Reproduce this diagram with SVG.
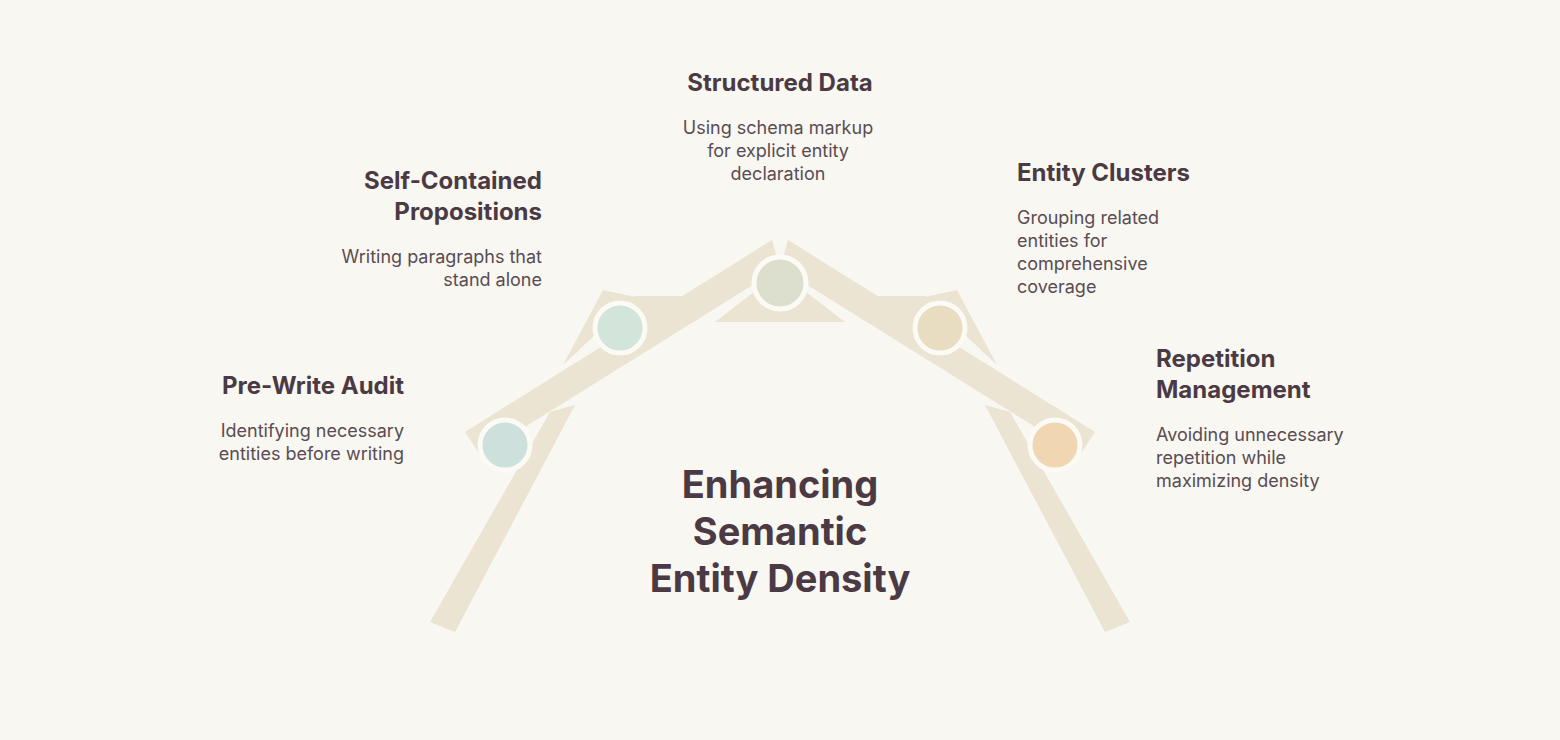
<svg xmlns="http://www.w3.org/2000/svg" width="1560" height="740" viewBox="0 0 1560 740">
<style>
.beam{fill:#ebe4d3}
.t{font-family:Inter,"Noto Sans",sans-serif;font-weight:700;font-size:24px;fill:#4b3a43}
.d{font-family:Inter,"Noto Sans",sans-serif;font-size:18px;fill:#5a4c52}
.c{font-family:Inter,"Noto Sans",sans-serif;font-weight:700;font-size:38px;fill:#4b3a43}
.n{stroke:#fbfaf5;stroke-width:5}
</style>
<rect width="1560" height="740" fill="#f8f7f2"/>
<g id="frame">
<polygon class="beam" points="430,622 455,632 575,405 550,412"/>
<polygon class="beam" points="563,365 603,290 640,298 600,330"/>
<polygon class="beam" points="635,296 700,296 680,320 630,320"/>
<polygon class="beam" points="715,322 845,322 780,272"/>
<polygon class="beam" points="465,432 480,455 780,268 772,240"/>
<polygon class="beam" points="1130,622 1105,632 985,405 1010,412"/>
<polygon class="beam" points="997,365 957,290 920,298 960,330"/>
<polygon class="beam" points="925,296 860,296 880,320 930,320"/>
<polygon class="beam" points="1095,432 1080,455 780,268 788,240"/>
</g>
<g id="connectors"></g>
<g id="n1"><circle class="n" cx="505" cy="445" r="25" fill="#cde0dc"/>
<text class="t" x="404" y="394" text-anchor="end">Pre-Write Audit</text>
<text class="d" x="404" y="437" text-anchor="end">Identifying necessary</text>
<text class="d" x="404" y="460" text-anchor="end">entities before writing</text></g>
<g id="n2"><circle class="n" cx="620" cy="328" r="25" fill="#d3e4da"/>
<text class="t" x="542" y="189" text-anchor="end">Self-Contained</text>
<text class="t" x="542" y="220" text-anchor="end">Propositions</text>
<text class="d" x="542" y="263" text-anchor="end">Writing paragraphs that</text>
<text class="d" x="542" y="286" text-anchor="end">stand alone</text></g>
<g id="n3"><circle class="n" cx="780" cy="283" r="26" fill="#dcdfcd"/>
<text class="t" x="780" y="91" text-anchor="middle">Structured Data</text>
<text class="d" x="778" y="134" text-anchor="middle">Using schema markup</text>
<text class="d" x="778" y="157" text-anchor="middle">for explicit entity</text>
<text class="d" x="778" y="180" text-anchor="middle">declaration</text></g>
<g id="n4"><circle class="n" cx="940" cy="328" r="25" fill="#e8dcc1"/>
<text class="t" x="1017" y="181">Entity Clusters</text>
<text class="d" x="1017" y="224">Grouping related</text>
<text class="d" x="1017" y="247">entities for</text>
<text class="d" x="1017" y="270">comprehensive</text>
<text class="d" x="1017" y="293">coverage</text></g>
<g id="n5"><circle class="n" cx="1055" cy="445" r="25" fill="#f0d6b2"/>
<text class="t" x="1156" y="367">Repetition</text>
<text class="t" x="1156" y="398">Management</text>
<text class="d" x="1156" y="441">Avoiding unnecessary</text>
<text class="d" x="1156" y="464">repetition while</text>
<text class="d" x="1156" y="487">maximizing density</text></g>
<g id="center">
<text class="c" x="780" y="498" text-anchor="middle">Enhancing</text>
<text class="c" x="780" y="545" text-anchor="middle">Semantic</text>
<text class="c" x="780" y="592" text-anchor="middle">Entity Density</text></g>
</svg>
